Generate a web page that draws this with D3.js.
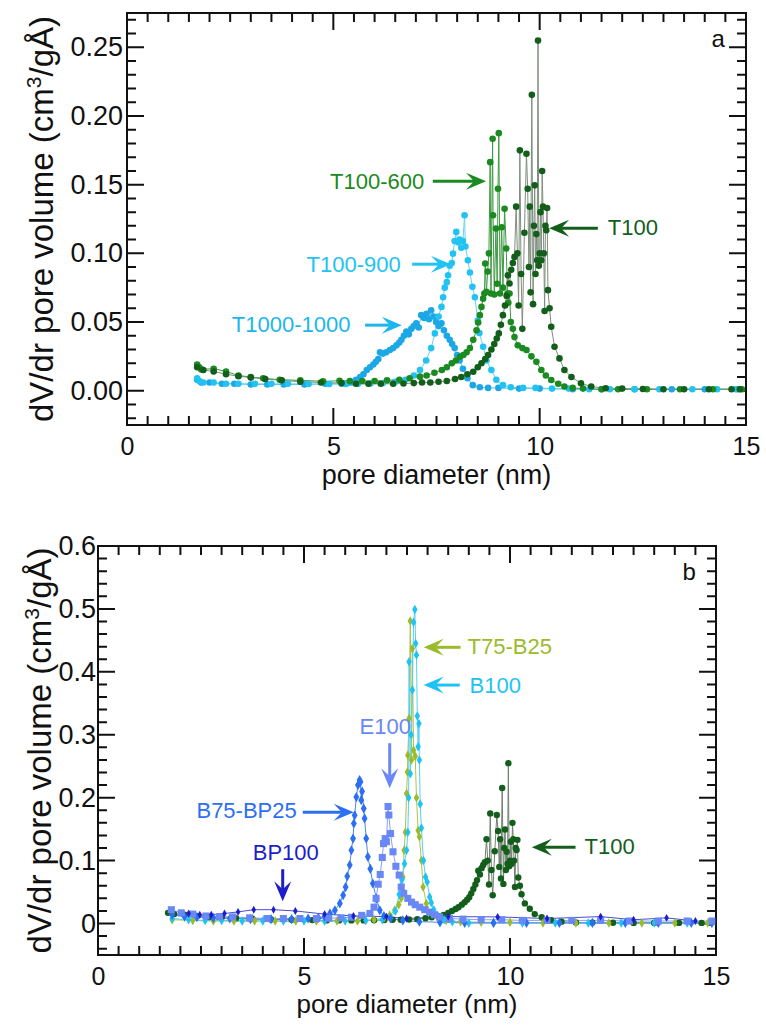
<!DOCTYPE html>
<html>
<head>
<meta charset="utf-8">
<script src="https://cdn.jsdelivr.net/npm/d3@7"></script>
<style>
  body { margin: 0; background: #fff; }
  svg { display: block; }
  text { font-family: "Liberation Sans", Arial, sans-serif; }
</style>
</head>
<body>
<svg id="chart" width="766" height="1026"></svg>
<script>
// ---- data: [pore diameter (nm), dV/dr (cm3/gÅ)] ----
const t100 = [[1.7,0.017],[1.85,0.015],[2.1,0.014],[2.4,0.012],[2.7,0.0105],[3.0,0.0095],[3.35,0.0085],[3.75,0.0075],[4.2,0.0065],[4.7,0.006],[5.2,0.0055],[5.55,0.005],[5.85,0.005],[6.15,0.005],[6.45,0.005],[6.7,0.0052],[6.95,0.0055],[7.15,0.006],[7.35,0.006],[7.55,0.0065],[7.75,0.007],[7.95,0.0085],[8.1,0.01],[8.25,0.012],[8.39,0.0138],[8.5,0.017],[8.59,0.02],[8.68,0.023],[8.75,0.026],[8.83,0.03],[8.9,0.034],[8.96,0.038],[9.01,0.0417],[9.06,0.048],[9.11,0.055],[9.16,0.062],[9.2,0.069],[9.23,0.084],[9.27,0.078],[9.31,0.088],[9.35,0.093],[9.39,0.0974],[9.43,0.134],[9.46,0.1],[9.49,0.062],[9.52,0.175],[9.55,0.085],[9.58,0.045],[9.63,0.115],[9.68,0.1725],[9.71,0.147],[9.74,0.09],[9.76,0.134],[9.78,0.0716],[9.81,0.2154],[9.84,0.063],[9.86,0.12],[9.88,0.1495],[9.9,0.085],[9.92,0.114],[9.94,0.095],[9.96,0.2549],[9.98,0.091],[10.0,0.1],[10.02,0.13],[10.04,0.095],[10.06,0.16],[10.08,0.134],[10.1,0.1],[10.12,0.058],[10.14,0.12],[10.16,0.1168],[10.18,0.133],[10.2,0.0732],[10.24,0.06],[10.28,0.0465],[10.36,0.032],[10.48,0.0235],[10.6,0.015],[10.77,0.010],[11.0,0.0054],[11.25,0.003],[11.6,0.0018],[12.0,0.0015],[12.5,0.0012],[13.0,0.001],[13.5,0.001],[14.1,0.001],[14.65,0.001],[14.85,0.001]];

const t100_600 = [[1.7,0.019],[1.75,0.017],[1.8,0.0155],[2.1,0.016],[2.4,0.014],[2.7,0.011],[3.0,0.010],[3.3,0.009],[3.7,0.008],[4.2,0.0075],[4.75,0.0068],[5.15,0.0072],[5.4,0.007],[5.7,0.007],[6.0,0.007],[6.3,0.0075],[6.6,0.008],[6.85,0.009],[7.1,0.0102],[7.26,0.011],[7.45,0.013],[7.63,0.015],[7.75,0.017],[7.87,0.020],[7.97,0.022],[8.07,0.0247],[8.15,0.026],[8.23,0.028],[8.31,0.031],[8.39,0.037],[8.47,0.044],[8.51,0.0496],[8.55,0.055],[8.59,0.061],[8.63,0.067],[8.66,0.0708],[8.68,0.0926],[8.71,0.072],[8.74,0.0867],[8.77,0.1],[8.8,0.1664],[8.82,0.0708],[8.86,0.1834],[8.87,0.1277],[8.9,0.07],[8.94,0.118],[8.97,0.0778],[8.99,0.147],[9.01,0.1875],[9.04,0.0708],[9.08,0.119],[9.11,0.075],[9.15,0.1325],[9.19,0.1035],[9.22,0.0708],[9.24,0.064],[9.27,0.0708],[9.3,0.05],[9.35,0.045],[9.39,0.039],[9.47,0.033],[9.58,0.031],[9.68,0.0296],[9.8,0.025],[9.92,0.021],[10.04,0.015],[10.15,0.011],[10.28,0.0078],[10.45,0.005],[10.6,0.003],[10.8,0.002],[11.05,0.0015],[11.5,0.001],[11.9,0.001],[12.6,0.001],[13.4,0.001],[14.2,0.001],[14.9,0.001]];

const t100_900 = [[1.7,0.009],[1.75,0.007],[1.85,0.006],[2.1,0.006],[2.4,0.005],[2.7,0.005],[3.1,0.005],[3.5,0.005],[3.9,0.005],[4.4,0.0048],[4.9,0.0048],[5.3,0.0048],[5.6,0.005],[5.9,0.0052],[6.2,0.0055],[6.5,0.0065],[6.75,0.008],[6.95,0.011],[7.1,0.015],[7.25,0.022],[7.37,0.031],[7.46,0.0417],[7.55,0.054],[7.62,0.061],[7.66,0.068],[7.7,0.075],[7.75,0.079],[7.78,0.084],[7.82,0.091],[7.87,0.093],[7.9,0.0998],[7.94,0.109],[7.98,0.1156],[8.02,0.108],[8.06,0.11],[8.1,0.104],[8.14,0.109],[8.18,0.1277],[8.2,0.105],[8.26,0.095],[8.31,0.086],[8.37,0.0756],[8.43,0.068],[8.5,0.051],[8.54,0.042],[8.63,0.032],[8.71,0.022],[8.83,0.015],[8.95,0.008],[9.11,0.004],[9.3,0.0025],[9.6,0.002],[9.9,0.002],[10.3,0.0015],[10.7,0.0015],[11.2,0.001],[11.7,0.001],[12.3,0.001],[12.9,0.001],[13.7,0.001],[14.3,0.001],[14.75,0.001]];

const t1000_1000 = [[1.7,0.008],[1.8,0.006],[2.0,0.006],[2.3,0.005],[2.6,0.005],[3.0,0.0045],[3.4,0.0045],[3.8,0.0045],[4.3,0.0045],[4.8,0.005],[5.2,0.005],[5.35,0.0055],[5.45,0.006],[5.55,0.008],[5.65,0.010],[5.73,0.012],[5.81,0.015],[5.89,0.017],[5.97,0.019],[6.03,0.021],[6.09,0.023],[6.13,0.028],[6.2,0.027],[6.28,0.028],[6.37,0.0296],[6.45,0.031],[6.53,0.033],[6.6,0.035],[6.65,0.037],[6.71,0.040],[6.77,0.043],[6.83,0.041],[6.89,0.045],[6.95,0.047],[7.01,0.049],[7.07,0.046],[7.13,0.055],[7.2,0.053],[7.26,0.056],[7.32,0.052],[7.37,0.0586],[7.43,0.054],[7.49,0.05],[7.55,0.047],[7.62,0.049],[7.68,0.044],[7.75,0.040],[7.82,0.037],[7.88,0.034],[7.94,0.031],[8.0,0.026],[8.06,0.022],[8.14,0.016],[8.25,0.009],[8.38,0.004],[8.55,0.0025],[8.75,0.002],[9.0,0.002],[9.5,0.0015],[10.0,0.0015],[10.8,0.001],[11.5,0.001],[12.3,0.001],[13.2,0.001],[14.0,0.001],[14.8,0.001]];

const bp100 = [[2.2,0.016],[2.47,0.014],[2.75,0.014],[3.07,0.016],[3.4,0.0185],[3.78,0.022],[4.26,0.022],[4.79,0.020],[5.5,0.015],[6.2,0.012],[7.0,0.011],[7.49,0.008],[8.5,0.011],[9.7,0.0105],[10.9,0.008],[12.2,0.011],[13.0,0.006],[13.8,0.009],[14.5,0.004]];

const b75_bp25 = [[1.8,0.014],[2.1,0.011],[2.4,0.01],[2.8,0.009],[3.2,0.008],[3.7,0.007],[4.2,0.007],[4.7,0.007],[5.1,0.008],[5.35,0.009],[5.5,0.011],[5.63,0.016],[5.75,0.021],[5.87,0.032],[5.95,0.045],[6.01,0.058],[6.05,0.075],[6.11,0.093],[6.15,0.1165],[6.19,0.135],[6.21,0.159],[6.23,0.172],[6.27,0.201],[6.31,0.22],[6.35,0.228],[6.37,0.225],[6.39,0.196],[6.41,0.21],[6.45,0.183],[6.47,0.167],[6.51,0.135],[6.55,0.106],[6.61,0.087],[6.67,0.0636],[6.76,0.0397],[6.84,0.021],[6.94,0.012],[7.1,0.008],[7.4,0.005],[7.8,0.003],[8.3,0.002],[8.9,0.001],[9.6,0.001],[10.4,0.001],[11.2,0.001],[12.0,0.001],[12.8,0.001],[13.6,0.001],[14.4,0.001],[14.9,0.001]];

const e100 = [[1.78,0.022],[2.02,0.017],[2.3,0.015],[2.62,0.012],[2.95,0.011],[3.27,0.0105],[3.68,0.009],[4.1,0.008],[4.5,0.008],[4.9,0.008],[5.3,0.008],[5.6,0.0085],[5.9,0.009],[6.15,0.01],[6.4,0.013],[6.6,0.016],[6.7,0.026],[6.75,0.04],[6.8,0.0625],[6.85,0.078],[6.9,0.105],[6.93,0.127],[6.97,0.135],[7.0,0.13],[7.04,0.186],[7.06,0.1725],[7.1,0.143],[7.16,0.114],[7.23,0.091],[7.31,0.077],[7.36,0.058],[7.42,0.048],[7.52,0.04],[7.61,0.034],[7.7,0.03],[7.81,0.026],[7.93,0.022],[8.05,0.018],[8.17,0.014],[8.29,0.0105],[8.53,0.008],[8.86,0.007],[9.3,0.006],[9.8,0.006],[10.3,0.005],[10.9,0.005],[11.5,0.005],[12.2,0.005],[12.9,0.004],[13.6,0.004],[14.3,0.004],[14.9,0.004]];

const b100 = [[1.8,0.008],[2.2,0.006],[2.6,0.005],[3.0,0.005],[3.5,0.004],[4.0,0.004],[4.5,0.004],[5.0,0.004],[5.5,0.004],[6.0,0.004],[6.5,0.005],[6.9,0.006],[7.1,0.01],[7.22,0.02],[7.31,0.046],[7.38,0.07],[7.44,0.095],[7.49,0.1165],[7.52,0.145],[7.54,0.2],[7.55,0.416],[7.58,0.238],[7.6,0.3],[7.63,0.371],[7.66,0.479],[7.69,0.499],[7.71,0.445],[7.73,0.4266],[7.75,0.33],[7.77,0.281],[7.79,0.318],[7.8,0.26],[7.82,0.19],[7.85,0.152],[7.9,0.1],[7.95,0.074],[7.99,0.066],[8.05,0.042],[8.09,0.033],[8.15,0.022],[8.25,0.012],[8.4,0.006],[8.6,0.003],[9.0,0.001],[9.6,0.001],[10.3,0.001],[11.1,0.001],[11.9,0.001],[12.7,0.001],[13.5,0.001],[14.3,0.001],[14.9,0.001]];

const t75_b25 = [[1.8,0.006],[2.3,0.005],[2.8,0.004],[3.3,0.004],[3.8,0.004],[4.3,0.004],[4.8,0.004],[5.3,0.004],[5.8,0.004],[6.3,0.004],[6.7,0.006],[6.95,0.009],[7.08,0.013],[7.2,0.021],[7.3,0.03],[7.36,0.04],[7.4,0.074],[7.43,0.1165],[7.46,0.145],[7.49,0.2067],[7.51,0.241],[7.52,0.2676],[7.55,0.326],[7.58,0.481],[7.61,0.26],[7.63,0.437],[7.66,0.2755],[7.7,0.266],[7.73,0.2],[7.77,0.148],[7.8,0.138],[7.85,0.1],[7.89,0.058],[7.97,0.032],[8.09,0.017],[8.25,0.009],[8.45,0.005],[8.8,0.003],[9.3,0.002],[10.0,0.002],[10.8,0.001],[11.6,0.001],[12.4,0.001],[13.2,0.001],[14.0,0.001],[14.8,0.001]];

// ticks
const xMajor = [0, 5, 10, 15];
const yMajorA = [0, 0.05, 0.10, 0.15, 0.20, 0.25];
const yMajorB = [0, 0.1, 0.2, 0.3, 0.4, 0.5, 0.6];

const DKGREEN = "#135e1b", GREEN = "#1b8a20", CYAN = "#22c3f2", CYAN2 = "#1ca8e6";

const svg = d3.select("#chart");

const panelA = {
    box: { left: 127, right: 746, top: 13, bottom: 425 },
    xDomain: [0, 15], yDomain: [-0.025, 0.275],
    yMajor: yMajorA, yMinorStep: 0.01, yFormat: d3.format(".2f"),
    yTickFont: 27, xTickFont: 25, yPad: 4, xPad: 12,
    yTitleX: 53, xTitleY: 484, xTitleFont: 27,
    tag: { text: "a", x: 14.49, y: 0.2505 },
    series: [
        { data: t1000_1000, color: CYAN2, line: "#5cc0ee", shape: "circle", r: 3.3 },
        { data: t100_900, color: CYAN, line: "#64d2f5", shape: "circle", r: 3.3 },
        { data: t100_600, color: GREEN, line: "#3f9a43", shape: "circle", r: 3.3 },
        { data: t100, color: DKGREEN, line: "#7e8e7e", shape: "circle", r: 3.3 }
    ],
    notes: [
        { text: "T100-600", color: GREEN, tx: 4.92, ty: 0.147, a: [7.41, 0.1524, 8.70, 0.1524] },
        { text: "T100-900", color: CYAN, tx: 4.35, ty: 0.0865, a: [6.91, 0.0921, 7.85, 0.0921] },
        { text: "T1000-1000", color: "#1cb6ee", tx: 2.54, ty: 0.0429, a: [5.77, 0.0477, 6.66, 0.0477] },
        { text: "T100", color: DKGREEN, tx: 11.65, ty: 0.1132, a: [11.41, 0.1182, 10.23, 0.1182] }
    ]
};

const panelB = {
    box: { left: 98, right: 716, top: 546, bottom: 955 },
    xDomain: [0, 15], yDomain: [-0.05, 0.6],
    yMajor: yMajorB, yMinorStep: 0.02, yFormat: d => d === 0 ? "0" : d3.format(".1f")(d),
    yTickFont: 27, xTickFont: 25, yPad: 2, xPad: 12,
    yTitleX: 51, xTitleY: 1013, xTitleFont: 26,
    tag: { text: "b", x: 14.51, y: 0.546 },
    series: [
        { data: t100, color: DKGREEN, line: "#6f806f", shape: "circle", r: 3.2 },
        { data: t75_b25, color: "#9bbb2b", line: "#a9c44a", shape: "diamond", size: 26 },
        { data: b100, color: "#1ec3f6", line: "#55d0f6", shape: "diamond", size: 26 },
        { data: b75_bp25, color: "#2c6ff2", line: "#4f86f2", shape: "diamond", size: 30 },
        { data: e100, color: "#6a88f5", line: "#8aa0f5", shape: "square", size: 50 },
        { data: bp100, color: "#1d1dc9", line: "#4a4ad4", shape: "diamond", size: 18 }
    ],
    notes: [
        { text: "T75-B25", color: "#9bbb2b", tx: 8.97, ty: 0.429, a: [8.80, 0.439, 7.905, 0.439] },
        { text: "B100", color: "#1ec3f6", tx: 9.02, ty: 0.3666, a: [8.78, 0.379, 7.905, 0.379] },
        { text: "E100", color: "#6a88f5", tx: 6.35, ty: 0.3005, a: [7.08, 0.2866, 7.08, 0.2151] },
        { text: "B75-BP25", color: "#2c6ff2", tx: 2.39, ty: 0.167, a: [4.97, 0.177, 6.207, 0.177] },
        { text: "BP100", color: "#1d1dc9", tx: 3.755, ty: 0.1006, a: [4.483, 0.0863, 4.483, 0.0355] },
        { text: "T100", color: DKGREEN, tx: 11.81, ty: 0.110, a: [11.59, 0.1213, 10.53, 0.1213] }
    ]
};

drawPanel(panelA);
drawPanel(panelB);

function drawPanel(p) {
    const { left, right, top, bottom } = p.box;
    const x = d3.scaleLinear().domain(p.xDomain).range([left, right]);
    const y = d3.scaleLinear().domain(p.yDomain).range([bottom, top]);
    const g = svg.append("g");

    const xMinor = d3.range(p.xDomain[0], p.xDomain[1] + 1e-9, 0.5).filter(v => !xMajor.includes(v));
    const yMinor = d3.range(Math.ceil(p.yDomain[0] / p.yMinorStep - 1e-9) * p.yMinorStep, p.yDomain[1] + 1e-9, p.yMinorStep)
        .filter(v => !p.yMajor.some(m => Math.abs(m - v) < 1e-9));

    // inward ticks on all four sides, one path per panel
    const tp = d3.path();
    const addX = (vals, len) => vals.forEach(v => {
        tp.moveTo(x(v), bottom); tp.lineTo(x(v), bottom - len);
        tp.moveTo(x(v), top); tp.lineTo(x(v), top + len);
    });
    const addY = (vals, len) => vals.forEach(v => {
        tp.moveTo(left, y(v)); tp.lineTo(left + len, y(v));
        tp.moveTo(right, y(v)); tp.lineTo(right - len, y(v));
    });
    addX(xMinor, 9); addX(xMajor, 17);
    addY(yMinor, 9); addY(p.yMajor, 17);
    g.append("path").attr("d", tp.toString())
        .attr("fill", "none").attr("stroke", "#111").attr("stroke-width", 2);

    // tick labels through d3 axes
    const xa = g.append("g").attr("transform", `translate(0,${bottom})`)
        .call(d3.axisBottom(x).tickValues(xMajor).tickSize(0).tickPadding(p.xPad).tickFormat(d3.format("d")));
    const ya = g.append("g").attr("transform", `translate(${left},0)`)
        .call(d3.axisLeft(y).tickValues(p.yMajor).tickSize(0).tickPadding(p.yPad).tickFormat(p.yFormat));
    [xa, ya].forEach(a => a.select(".domain").remove());
    xa.selectAll("text").attr("font-size", p.xTickFont);
    ya.selectAll("text").attr("font-size", p.yTickFont);
    g.selectAll(".tick text").attr("fill", "#111").attr("font-family", "'Liberation Sans', Arial, sans-serif");

    g.append("rect").attr("x", left).attr("y", top)
        .attr("width", right - left).attr("height", bottom - top)
        .attr("fill", "none").attr("stroke", "#111").attr("stroke-width", 2);

    // series
    const line = d3.line().x(d => x(d[0])).y(d => y(d[1]));
    p.series.forEach(s => {
        g.append("path").datum(s.data).attr("d", line)
            .attr("fill", "none").attr("stroke", s.line).attr("stroke-width", 1);
    });
    p.series.forEach(s => {
        const marks = g.append("g").attr("fill", s.color);
        if (s.shape === "circle") {
            marks.selectAll("circle").data(s.data).join("circle")
                .attr("cx", d => x(d[0])).attr("cy", d => y(d[1])).attr("r", s.r);
        } else {
            const sym = d3.symbol().type(s.shape === "square" ? d3.symbolSquare : d3.symbolDiamond).size(s.size);
            marks.selectAll("path").data(s.data).join("path")
                .attr("transform", d => `translate(${x(d[0])},${y(d[1])})`).attr("d", sym);
        }
    });

    // annotations
    p.notes.forEach(n => {
        g.append("text").attr("x", x(n.tx)).attr("y", y(n.ty))
            .attr("font-size", 22).attr("fill", n.color).text(n.text);
        arrow(g, x(n.a[0]), y(n.a[1]), x(n.a[2]), y(n.a[3]), n.color);
    });

    g.append("text").attr("x", x(p.tag.x)).attr("y", y(p.tag.y))
        .attr("text-anchor", "end").attr("font-size", 24).attr("fill", "#111").text(p.tag.text);

    // axis titles
    g.append("text").attr("x", (left + right) / 2).attr("y", p.xTitleY)
        .attr("text-anchor", "middle").attr("font-size", p.xTitleFont).attr("fill", "#111")
        .text("pore diameter (nm)");
    const yt = g.append("text")
        .attr("transform", `translate(${p.yTitleX},${(top + bottom) / 2}) rotate(-90)`)
        .attr("text-anchor", "middle").attr("font-size", 33).attr("fill", "#111");
    yt.append("tspan").text("dV/dr pore volume (cm");
    yt.append("tspan").attr("font-size", 21).attr("dy", -12).text("3");
    yt.append("tspan").attr("dy", 12).text("/gÅ)");
}

function arrow(g, x1, y1, x2, y2, color) {
    const ang = Math.atan2(y2 - y1, x2 - x1);
    const L = 20, W = 8.5, N = 8;
    const len = Math.hypot(x2 - x1, y2 - y1);
    const a = g.append("g").attr("transform", `translate(${x1},${y1}) rotate(${ang * 180 / Math.PI})`);
    a.append("line").attr("x1", 0).attr("y1", 0).attr("x2", len - L + N).attr("y2", 0)
        .attr("stroke", color).attr("stroke-width", 3);
    a.append("path")
        .attr("d", `M${len},0 L${len - L},${-W} L${len - L + N},0 L${len - L},${W} Z`)
        .attr("fill", color);
}
</script>
</body>
</html>
